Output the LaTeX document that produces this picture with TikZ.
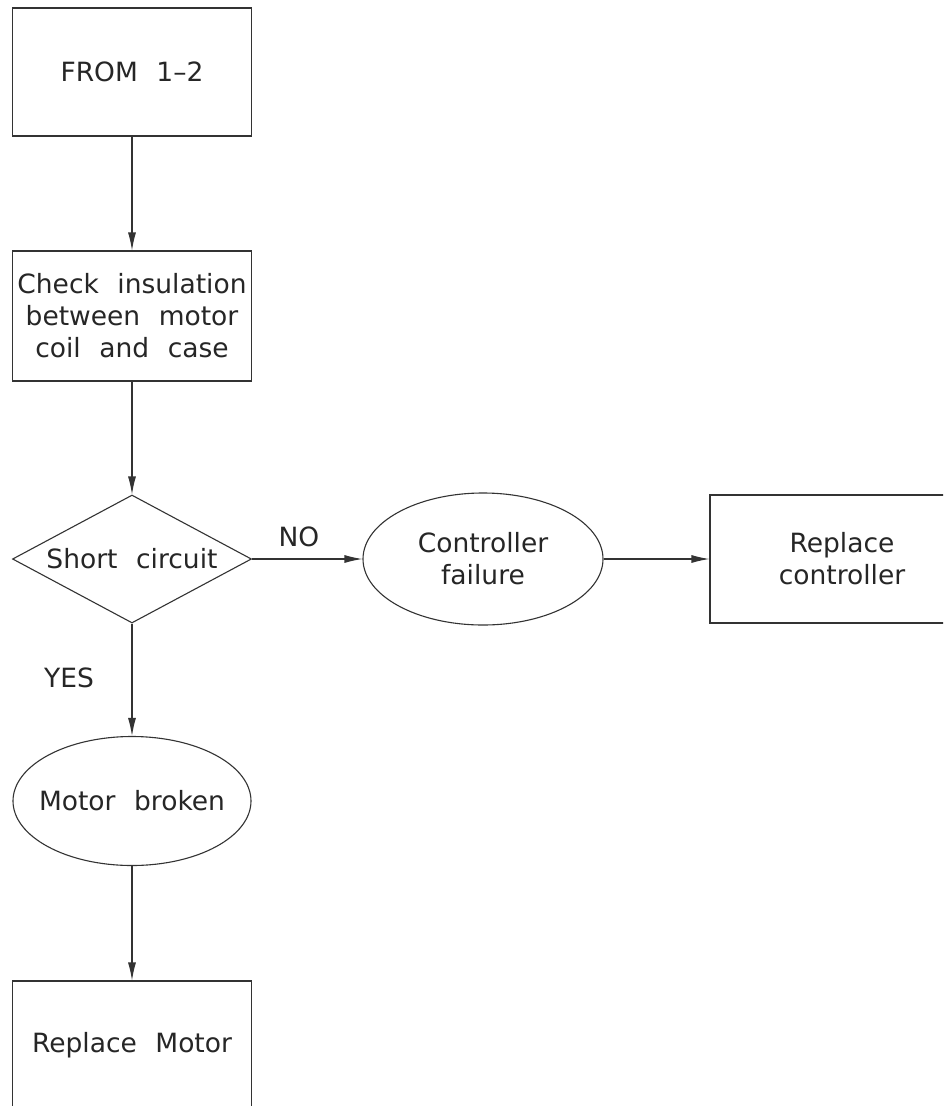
\documentclass[tikz,border=0pt]{standalone}
\usepackage{fontspec}
\setmainfont{DejaVu Sans}[WordSpace=2.2]
\usetikzlibrary{shapes.geometric,arrows.meta}
\begin{document}
\begin{tikzpicture}[x=1pt,y=-1pt,
  ink/.style={draw=black!80,line width=1.1pt},
  txt/.style={text=black!85,font=\fontsize{26.5}{32}\selectfont,align=center,inner sep=0pt},
  stepbox/.style={ink,txt,rectangle,minimum width=239pt,minimum height=128pt},
  decision/.style={ink,txt,diamond,aspect=1.87,minimum width=239pt,minimum height=128pt},
  outcome/.style={ink,txt,ellipse,minimum width=238pt,minimum height=129pt},
  flow/.style={ink,-{Latex[length=18pt,width=8pt]}},
  tag/.style={txt}]
  \clip (0,0) rectangle (943,1106);
  \fill[white] (0,0) rectangle (943,1106);

  % main column
  \node[stepbox] (from) at (132,72) {FROM 1--2};
  \node[stepbox,minimum height=130pt] (check) at (132,316)
    {Check insulation\\between motor\\coil and case};
  \node[decision] (sc) at (132,559) {Short circuit};
  % the label box is kept narrower than its text so the ellipse keeps its size
  \node[outcome] (motor) at (132,801) {\makebox[140pt][c]{Motor broken}};
  \node[stepbox] (repmotor) at (132,1045) {Replace Motor};

  % NO branch
  \node[outcome,minimum width=240pt,minimum height=132pt] (ctrl) at (483,559) {Controller\\failure};
  \node[stepbox,minimum width=264pt] (repctrl) at (842,559) {Replace\\controller};

  % branch labels
  \node[tag] (no) at (299,537) {NO};
  \node[tag] (yes) at (69,678) {YES};

  % connectors
  \draw[flow] (from) -- (check);
  \draw[flow] (check) -- (sc);
  \draw[flow] (sc.east) -- (ctrl);
  \draw[flow] (ctrl) -- (repctrl);
  \draw[flow] (sc.south) -- (motor);
  \draw[flow] (motor) -- (repmotor);
\end{tikzpicture}
\end{document}
